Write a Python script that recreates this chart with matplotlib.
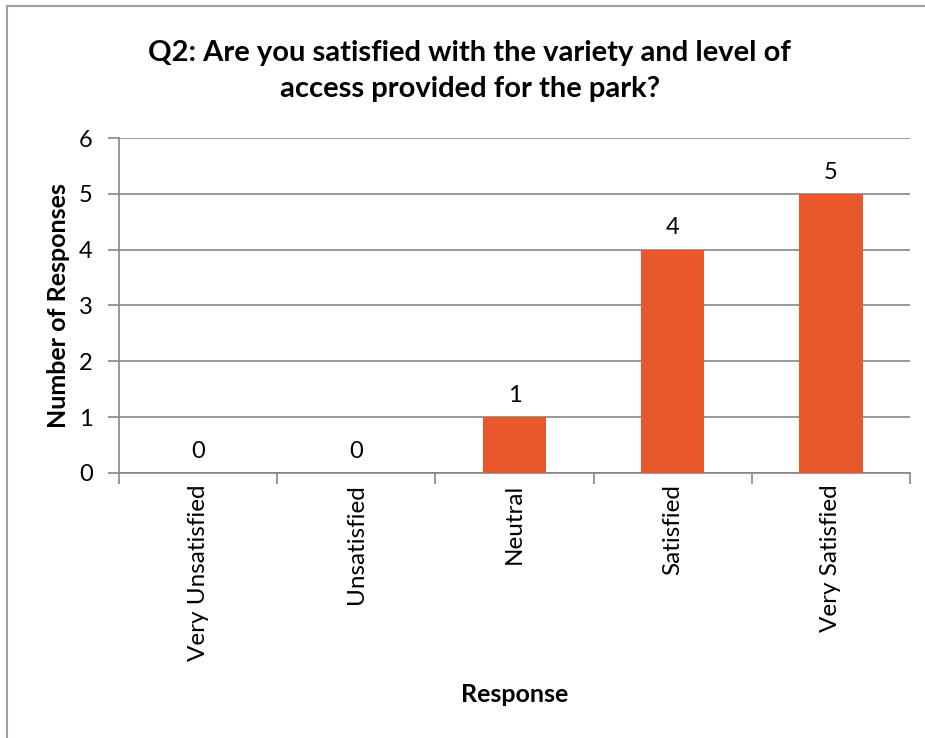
import matplotlib
matplotlib.use("Agg")
import matplotlib.pyplot as plt
from matplotlib.lines import Line2D

categories = ["Very Unsatisfied", "Unsatisfied", "Neutral", "Satisfied", "Very Satisfied"]
counts = [0, 0, 1, 4, 5]
yticks = [0, 1, 2, 3, 4, 5, 6]

plt.rcParams['font.family'] = ['Lato', 'DejaVu Sans']
grid_col = '#868686'
bar_col = '#E8582A'

fig = plt.figure(figsize=(9.25, 7.38), dpi=100)
ax = fig.add_axes([0.1286, 0.3591, 0.8552, 0.4539])

x = list(range(len(categories)))
ax.bar(x, counts, width=0.4, color=bar_col, zorder=3)
for xi, v in zip(x, counts):
    ax.text(xi, v + 0.2, str(v), ha='center', va='bottom', fontsize=17)

ax.set_xlim(-0.5, len(categories) - 0.5)
ax.set_ylim(0, 6)
ax.set_yticks(yticks)
ax.set_yticklabels([str(t) for t in yticks], fontsize=17)
ax.yaxis.grid(True, color=grid_col, linewidth=1.2, zorder=0)

ax.set_xticks([i - 0.5 for i in range(len(categories) + 1)])
ax.set_xticklabels([])
ax.set_xticks(x, minor=True)
ax.set_xticklabels(categories, minor=True, rotation=90, fontsize=17.5, va='top')
ax.tick_params(axis='x', which='minor', length=0, pad=8)
ax.tick_params(axis='x', which='major', length=8, width=1.2, color=grid_col, direction='out')
ax.tick_params(axis='y', length=8, width=1.2, color=grid_col, direction='out', pad=11)

for s in ['top', 'right']:
    ax.spines[s].set_visible(False)
for s in ['left', 'bottom']:
    ax.spines[s].set_color(grid_col)
    ax.spines[s].set_linewidth(1.2)

ax.set_ylabel("Number of Responses", fontsize=18, fontweight='bold', labelpad=6)
ax.set_xlabel("Response", fontsize=18, fontweight='bold', labelpad=16)

fig.text(0.508, 0.904, "Q2: Are you satisfied with the variety and level of\naccess provided for the park?",
         ha='center', va='center', fontsize=21, fontweight='bold', linespacing=1.45)

# chart frame (left and top edges visible)
fig.add_artist(Line2D([0.0076, 0.0076], [0, 0.9919], color='#a0a0a0', linewidth=1.5, transform=fig.transFigure))
fig.add_artist(Line2D([0.0076, 1.0], [0.9919, 0.9919], color='#a0a0a0', linewidth=1.5, transform=fig.transFigure))

fig.savefig("out.png", dpi=100)
